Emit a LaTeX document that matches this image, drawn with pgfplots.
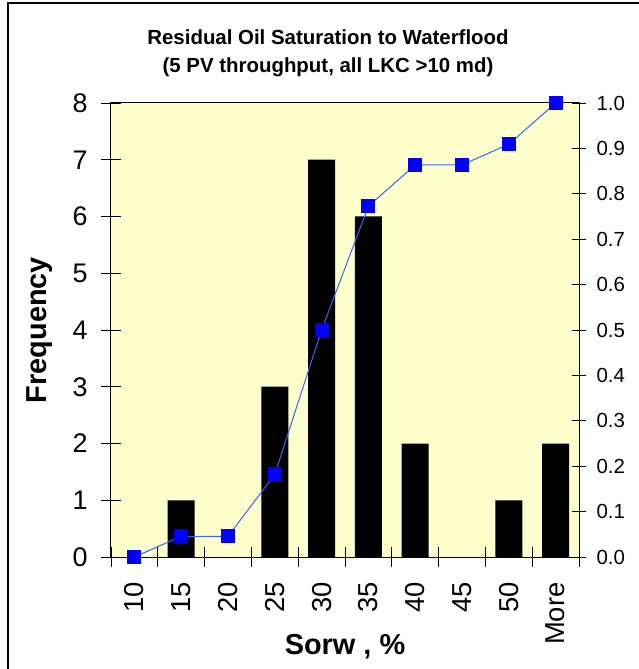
\documentclass[border=0pt]{standalone}
\usepackage{fontspec}
\setmainfont{Liberation Sans}
\usepackage{pgfplots}
\pgfplotsset{compat=1.18}
\definecolor{plotbg}{RGB}{255,255,204}
\definecolor{cumline}{RGB}{51,102,255}

\begin{document}
\begin{tikzpicture}
% histogram, left axis
\begin{axis}[
    scale only axis, width=468bp, height=454bp,
    xmin=-0.5, xmax=9.5, ymin=0, ymax=8,
    axis background/.style={fill=plotbg},
    axis line style={line width=1bp},
    ybar, bar width=27bp, bar shift=0pt,
    xtick={0,...,9},
    xticklabels={10,15,20,25,30,35,40,45,50,More},
    major x tick style={draw=none},
    minor xtick={-0.5,0.5,...,9.5},
    ytick={0,...,8},
    xtick pos=bottom, ytick pos=left,
    tick align=center, major tick length=20bp, minor tick length=20bp,
    tick style={black, line width=0.8bp},
    /pgf/number format/assume math mode=true,
    xticklabel shift=12bp, yticklabel shift=10bp,
    x tick label style={rotate=90, anchor=east, font=\fontsize{27.5}{29}\selectfont},
    y tick label style={font=\fontsize{27}{29}\selectfont},
    xlabel={\textbf{Sorw , \%}},
    xlabel style={at={(axis description cs:0.5,-0.2137)}, anchor=base, font=\fontsize{29}{31}\selectfont},
    ylabel={\textbf{Frequency}},
    ylabel style={at={(axis description cs:-0.137,0.5)}, anchor=base, rotate=0, font=\fontsize{29}{31}\selectfont},
]
\addplot[fill=black, draw=none] coordinates {
    (0,0) (1,1) (2,0) (3,3) (4,7) (5,6) (6,2) (7,0) (8,1) (9,2)
};
\end{axis}
% cumulative fraction, right axis
\begin{axis}[
    scale only axis, width=468bp, height=454bp,
    xmin=-0.5, xmax=9.5, ymin=0, ymax=1,
    axis y line*=right, axis x line=none,
    axis line style={line width=1bp},
    ytick={0,0.1,0.2,0.3,0.4,0.5,0.6,0.7,0.8,0.9,1.0},
    tick align=center, major tick length=14bp,
    tick style={black, line width=0.8bp},
    /pgf/number format/assume math mode=true,
    yticklabel shift=7bp,
    yticklabel style={font=\fontsize{20.5}{22}\selectfont,
        /pgf/number format/.cd, fixed, fixed zerofill, precision=1},
    clip=false,
]
\addplot[color=cumline, line width=1bp, mark=square*,
    mark options={draw=blue, fill=blue}, mark size=6.5bp] coordinates {
    (0,0) (1,0.0455) (2,0.0455) (3,0.1818) (4,0.5) (5,0.7727)
    (6,0.8636) (7,0.8636) (8,0.9091) (9,1.0)
};
\end{axis}
\node[anchor=base, font=\bfseries\fontsize{20.5}{22}\selectfont] at (217bp,512bp)
    {Residual Oil Saturation to Waterflood};
\node[anchor=base, font=\bfseries\fontsize{20.5}{22}\selectfont] at (217bp,484bp)
    {(5 PV throughput, all LKC >10 md)};
\draw[line width=2bp] (-103bp,-112bp) -- (-103bp,554bp) -- (528bp,554bp);
\pgfresetboundingbox
\path[use as bounding box] (-111bp,-112bp) rectangle (528bp,557bp);
\end{tikzpicture}
\end{document}
